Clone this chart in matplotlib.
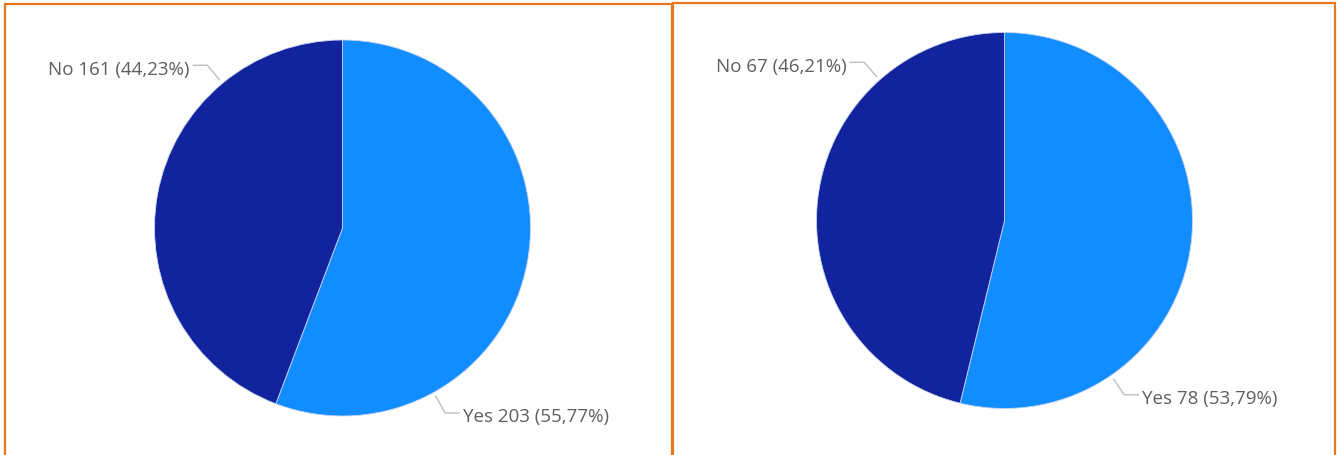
import numpy as np
import matplotlib.pyplot as plt
from matplotlib.patches import Rectangle

# survey answers for the two groups
categories = ['Yes', 'No']
left_counts = [203, 161]
right_counts = [78, 67]

colors = {'Yes': '#118DFF', 'No': '#12239E'}
text_color = '#605E5C'
border_color = '#E8761E'

W, H = 1338, 456
fig = plt.figure(figsize=(W / 100, H / 100), dpi=100)
fig.patch.set_facecolor('white')

# panel frames (pixel boxes: left, top, right)
for x0, y0, x1 in [(5, 5, 672), (673, 4, 1335)]:
    fig.patches.append(Rectangle((x0 / W, -0.05), (x1 - x0) / W, 1.05 - y0 / H,
                                 transform=fig.transFigure, fill=False,
                                 edgecolor=border_color, linewidth=1.6))

R_PX = 188  # pie radius in pixels
BOX = 240   # half-size of each pie axes in pixels


def draw_pie(cx, cy, counts, label_angles):
    ax = fig.add_axes([(cx - BOX) / W, 1 - (cy + BOX) / H, 2 * BOX / W, 2 * BOX / H])
    ax.pie(counts, colors=[colors[c] for c in categories], startangle=90,
           counterclock=False, radius=1,
           wedgeprops=dict(edgecolor='#C8D4F0', linewidth=0.6))

    # pie() resets the limits, so fix them afterwards
    lim = BOX / R_PX
    ax.set_xlim(-lim, lim)
    ax.set_ylim(-lim, lim)
    ax.set_aspect('equal')
    ax.axis('off')

    total = sum(counts)
    for cat, n in zip(categories, counts):
        pct = f"{100 * n / total:.2f}".replace('.', ',')
        ang = np.deg2rad(label_angles[cat])
        p1 = np.array([np.cos(ang), np.sin(ang)]) * 1.025
        p2 = np.array([np.cos(ang), np.sin(ang)]) * 1.125
        side = 1 if np.cos(ang) > 0 else -1
        p3 = p2 + np.array([side * 0.075, 0])
        ax.plot([p1[0], p2[0], p3[0]], [p1[1], p2[1], p3[1]], color='#BDBDBD',
                linewidth=1, clip_on=False)
        ax.text(p3[0] + side * 0.018, p3[1] - 0.018, f"{cat} {n} ({pct}%)",
                ha='left' if side > 0 else 'right', va='center',
                fontsize=13.5, color=text_color, family='Open Sans')
    return ax


draw_pie(342.5, 229, left_counts, {'Yes': -61, 'No': 129.7})
draw_pie(1004.5, 221.5, right_counts, {'Yes': -55.5, 'No': 131.6})

fig.savefig('out.png', dpi=100, facecolor='white')
